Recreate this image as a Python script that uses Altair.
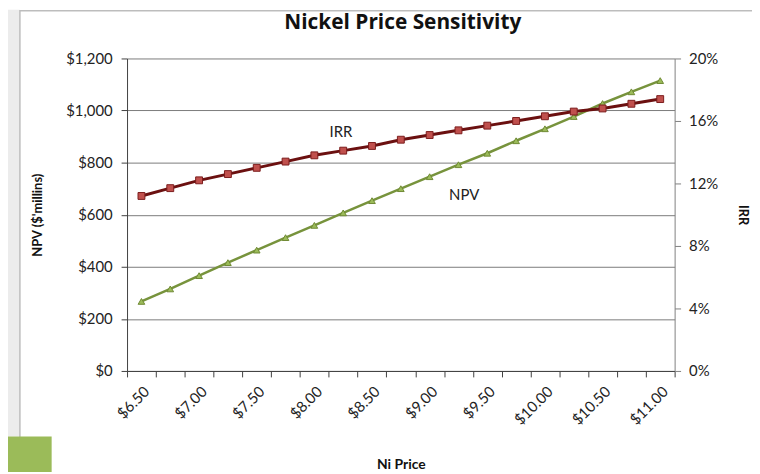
import altair as alt
import pandas as pd

# ---- data ----
prices = [6.50, 6.75, 7.00, 7.25, 7.50, 7.75, 8.00, 8.25, 8.50, 8.75,
          9.00, 9.25, 9.50, 9.75, 10.00, 10.25, 10.50, 10.75, 11.00]
npv = [267, 315, 366, 416, 464, 512, 559, 607, 654, 700,
       746, 792, 836, 884, 930, 977, 1027, 1072, 1115]
irr = [11.2, 11.7, 12.2, 12.6, 13.0, 13.4, 13.8, 14.1, 14.4, 14.8,
       15.1, 15.4, 15.7, 16.0, 16.3, 16.6, 16.8, 17.1, 17.4]
npv_ticks = [0, 200, 400, 600, 800, 1000, 1200]
irr_ticks = [0, 4, 8, 12, 16, 20]
annot_text = ["IRR", "NPV"]
annot_price = [8.23, 9.30]
annot_npv = [917, 675]

df = pd.DataFrame({"price": prices, "npv": npv, "irr": irr})
ann = pd.DataFrame({"label": annot_text, "price": annot_price, "npv": annot_npv})

W, H = 552, 315
half_step = 0.125
boundaries = [prices[0] - half_step + 0.25 * k for k in range(len(prices) + 1)]
band_px = W / len(prices)

FONT = "Lato"

x_enc = alt.X(
    "price:Q",
    scale=alt.Scale(domain=[prices[0] - half_step, prices[-1] + half_step], nice=False, zero=False),
    axis=alt.Axis(
        values=boundaries,
        labelExpr="(round((datum.value - 6.375) / 0.25) % 2 == 0 && datum.value < 11) ? format(datum.value + 0.125, '$.2f') : ''",
        labelOffset=band_px / 2,
        labelAngle=-45,
        labelAlign="right",
        labelBaseline="top",
        labelPadding=7,
        labelFontSize=15,
        labelFont=FONT,
        labelColor="#222222",
        tickSize=6,
        tickColor="#404040",
        domainColor="#404040",
        domainWidth=1,
        grid=False,
        title="Ni Price",
        titleFont=FONT,
        titleFontSize=14,
        titleFontWeight="bold",
        titlePadding=30,
        titleColor="#111111",
        labelOverlap=False,
        labelFlush=False,
    ),
)

y_npv = alt.Y(
    "npv:Q",
    scale=alt.Scale(domain=[0, 1200], nice=False),
    axis=alt.Axis(
        orient="left",
        values=npv_ticks,
        format="$,.0f",
        grid=True,
        gridColor="#7a7a7a",
        gridWidth=1,
        domainColor="#404040",
        tickColor="#404040",
        tickSize=6,
        labelPadding=9,
        labelFont=FONT,
        labelFontSize=15,
        labelColor="#222222",
        title="NPV ($'millins)",
        titleFont=FONT,
        titleFontSize=13,
        titleFontWeight="bold",
        titleColor="#111111",
        titlePadding=21,
    ),
)

y_irr = alt.Y(
    "irr:Q",
    scale=alt.Scale(domain=[0, 20], nice=False),
    axis=alt.Axis(
        orient="right",
        values=irr_ticks,
        labelExpr="datum.value + '%'",
        grid=False,
        domainColor="#808080",
        tickColor="#808080",
        tickSize=6,
        labelPadding=8,
        labelFont=FONT,
        labelFontSize=15,
        labelColor="#222222",
        title="IRR",
        titleFont=FONT,
        titleFontSize=13,
        titleFontWeight="bold",
        titleColor="#111111",
        titlePadding=18,
    ),
)

one = alt.Data(values=[{}])
strip = alt.Chart(one).mark_rect(fill="#ececec").encode(
    x=alt.value(-121), x2=alt.value(-108), y=alt.value(-49), y2=alt.value(381)
)
frame = alt.Chart(one).mark_rect(fill="transparent", stroke="#bdbdbd", strokeWidth=1.5).encode(
    x=alt.value(-108), x2=alt.value(800), y=alt.value(-48), y2=alt.value(600)
)
green = alt.Chart(one).mark_rect(fill="#9bbb59").encode(
    x=alt.value(-130), x2=alt.value(-76), y=alt.value(381), y2=alt.value(430)
)

base = alt.Chart(df)
npv_line = base.mark_line(color="#77933c", strokeWidth=2.5).encode(x=x_enc, y=y_npv)
npv_pts = base.mark_point(shape="triangle-up", filled=True, fill="#9bbb59", stroke="#6f8a35",
                          strokeWidth=1, size=45, opacity=1).encode(x=x_enc, y=y_npv)
labels = alt.Chart(ann).mark_text(font=FONT, fontSize=15, color="#222222").encode(
    x=x_enc, y=y_npv, text="label:N"
)
left = alt.layer(npv_line, npv_pts, labels)

irr_line = base.mark_line(color="#6b1010", strokeWidth=3).encode(x=x_enc, y=y_irr)
irr_pts = base.mark_point(shape="square", filled=True, fill="#c0504d", stroke="#7b1c1c",
                          strokeWidth=1, size=48, opacity=1).encode(x=x_enc, y=y_irr)
right = alt.layer(irr_line, irr_pts)

chart = alt.layer(strip, frame, green, left, right).resolve_scale(y="independent").properties(
    width=W,
    height=H,
    autosize=alt.AutoSizeParams(type="none"),
    padding={"left": 120, "top": 49, "right": 78, "bottom": 100},
    background="white",
    title=alt.TitleParams(
        "Nickel Price Sensitivity",
        font="Open Sans",
        fontSize=21,
        fontWeight="bold",
        color="#111111",
        anchor="middle",
        frame="group",
        offset=0,
        dy=23,
        dx=2,
    ),
).configure_view(stroke=None)

chart.save("out.html", embed_options={"renderer": "svg", "actions": False})
